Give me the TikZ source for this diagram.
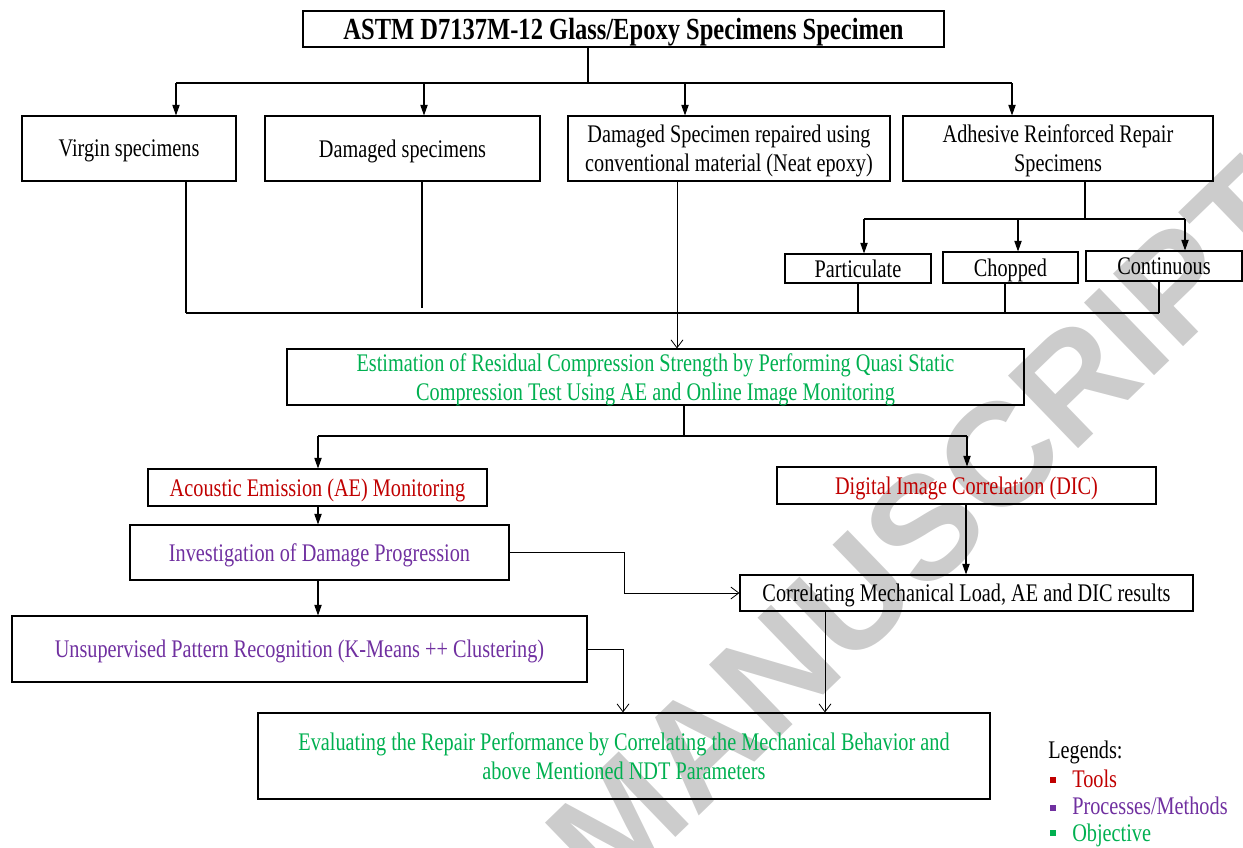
\documentclass[tikz,border=0pt]{standalone}
\usepackage{fontspec}
\setmainfont{Liberation Serif}[FakeStretch=0.8]
\newfontfamily\wmfont{Liberation Sans}
\usetikzlibrary{arrows.meta}
\definecolor{toolred}{HTML}{C00000}
\definecolor{procpurple}{HTML}{7030A0}
\definecolor{objgreen}{HTML}{00B050}
\tikzset{
  bx/.style n args={2}{draw, line width=0.8pt, inner sep=2pt, align=center, text depth=-1.5pt,
    minimum width=#1*0.75pt, minimum height=#2*0.75pt},
  fa/.style={line width=0.8pt, -{Triangle[length=8pt,width=5.5pt]}},
  oa/.style={line width=0.6pt, -{Straight Barb[length=6pt,width=9pt]}},
  bus/.style={line width=1.4pt},
  lnk/.style={line width=0.9pt},
  legsq/.style={fill=#1, inner sep=0pt, minimum size=4.5pt},
  legtxt/.style={anchor=base west, inner sep=0pt}
}
\begin{document}
\begin{tikzpicture}[x=0.75pt,y=-0.75pt,font=\fontsize{19}{21.75}\selectfont]
  \useasboundingbox (0,0) rectangle (1243,847);
  \node[gray!40, rotate=44, font=\wmfont\bfseries\fontsize{110}{110}\selectfont] (wm) at (925,527) {MANUSCRIPT};

  \node[bx={641}{36}, font=\bfseries\fontsize{23}{26}\selectfont] (title) at (623.5,29) {ASTM D7137M-12 Glass/Epoxy Specimens Specimen};
  \node[bx={214}{65}] (virgin) at (129,148.5) {Virgin specimens};
  \node[bx={275}{65}] (damaged) at (402.5,148.5) {Damaged specimens};
  \node[bx={322}{65}] (repaired) at (729,148.5) {Damaged Specimen repaired using\\conventional material (Neat epoxy)};
  \node[bx={310}{65}] (adhesive) at (1058,148.5) {Adhesive Reinforced Repair\\Specimens};
  \node[bx={146}{29}] (particulate) at (858,268.5) {Particulate};
  \node[bx={135}{31}] (chopped) at (1010.5,267.5) {Chopped};
  \node[bx={156}{30}] (continuous) at (1164,266) {Continuous};
  \node[bx={737}{56}, text=objgreen] (estimation) at (655.5,377) {Estimation of Residual Compression Strength by Performing Quasi Static\\Compression Test Using AE and Online Image Monitoring};
  \node[bx={339}{37}, text=toolred] (ae) at (317.5,487.5) {Acoustic Emission (AE) Monitoring};
  \node[bx={379}{37}, text=toolred] (dic) at (966.5,485.5) {Digital Image Correlation (DIC)};
  \node[bx={379}{55}, text=procpurple] (invest) at (319.5,552.5) {Investigation of Damage Progression};
  \node[bx={453}{36}] (correl) at (966.5,593) {Correlating Mechanical Load, AE and DIC results};
  \node[bx={575}{66}, text=procpurple] (unsup) at (299.5,649) {Unsupervised Pattern Recognition (K-Means ++ Clustering)};
  \node[bx={732}{86}, text=objgreen] (evaluat) at (624,756) {Evaluating the Repair Performance by Correlating the Mechanical Behavior and\\above Mentioned NDT Parameters};

  \node[legtxt] (legend) at (1048,758) {Legends:};
  \node[legsq=toolred] (sqtool) at (1053,779.5) {};
  \node[legsq=procpurple] (sqproc) at (1053,807.5) {};
  \node[legsq=objgreen] (sqobj) at (1053,833) {};
  \node[legtxt, text=toolred] (ltool) at (1072,787) {Tools};
  \node[legtxt, text=procpurple] (lproc) at (1072,814) {Processes/Methods};
  \node[legtxt, text=objgreen] (lobj) at (1072,841) {Objective};

  \coordinate (topbus) at (588,83);
  \coordinate (busL) at (176,83);
  \coordinate (busR) at (1012,83);
  \draw[bus] (title.south -| topbus) -- (topbus);
  \draw[bus] (busL) -- (busR);
  \foreach \n/\x in {virgin/176,damaged/424,repaired/685,adhesive/1012}
    \draw[fa] (\x,83) -- (\n.north -| \x,0);

  \coordinate (subbus) at (1085,219);
  \draw[bus] (adhesive.south -| subbus) -- (subbus);
  \draw[bus] (864,219) -- (1185,219);
  \foreach \n/\x in {particulate/864,chopped/1018,continuous/1185}
    \draw[fa] (\x,219) -- (\n.north -| \x,0);

  \coordinate (colL) at (186,313);
  \coordinate (colR) at (1159,313);
  \draw[bus] (colL) -- (colR);
  \draw[bus] (virgin.south -| colL) -- (colL);
  \draw[bus] (damaged.south -| 422,0) -- (422,308);
  \foreach \n/\x in {particulate/858,chopped/1005,continuous/1159}
    \draw[bus] (\n.south -| \x,0) -- (\x,313);
  \draw[oa] (repaired.south -| 677,0) -- (estimation.north -| 677,0);

  \coordinate (split) at (684,436);
  \draw[lnk] (estimation.south -| split) -- (split);
  \draw[lnk] (318,436) -- (967,436);
  \draw[fa] (318,436) -- (ae.north -| 318,0);
  \draw[fa] (967,436) -- (dic.north -| 967,0);
  \draw[fa] (ae.south -| 318,0) -- (invest.north -| 318,0);
  \draw[fa] (invest.south -| 318,0) -- (unsup.north -| 318,0);
  \draw[fa] (dic.south -| 966,0) -- (correl.north -| 966,0);
  \draw[oa] (invest.east) -- (624,552.5) |- (correl.west);
  \draw[oa] (unsup.east) -| (evaluat.north -| 623,0);
  \draw[oa] (correl.south -| 825,0) -- (evaluat.north -| 825,0);
\end{tikzpicture}
\end{document}
